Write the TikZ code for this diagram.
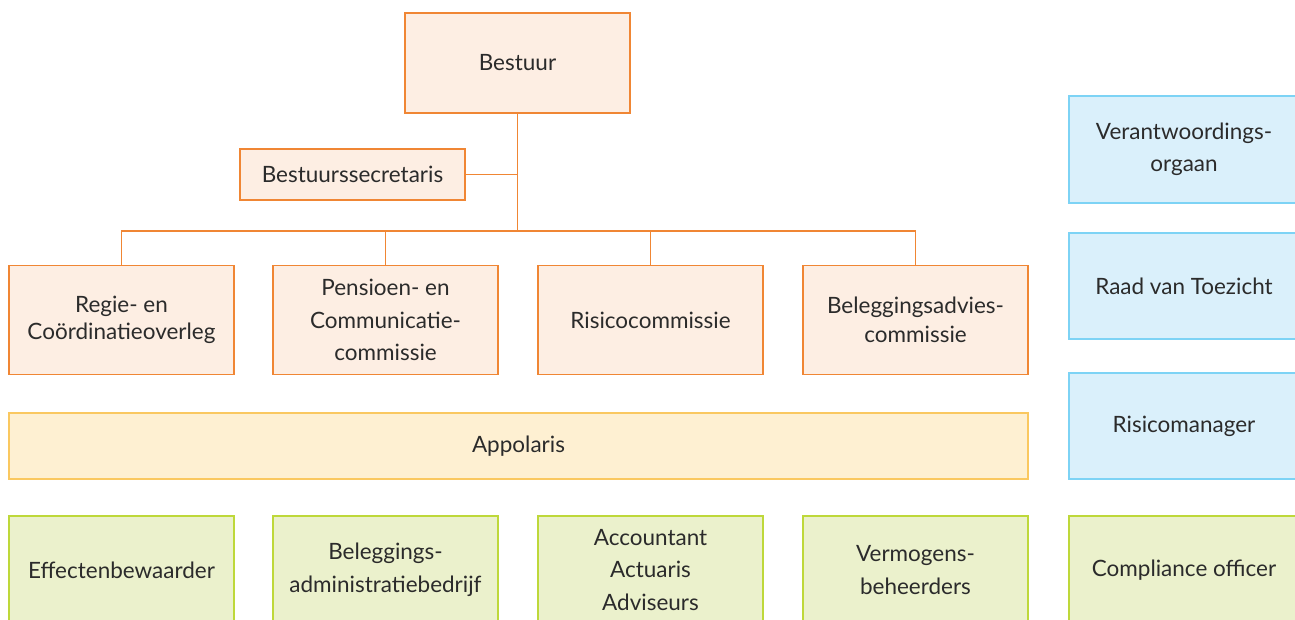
\documentclass[tikz,border=0pt]{standalone}
\usepackage{fontspec}
\setmainfont{Lato}
\definecolor{orgline}{RGB}{240,134,52}
\definecolor{orgfill}{RGB}{253,238,227}
\definecolor{yelline}{RGB}{250,200,96}
\definecolor{yelfill}{RGB}{254,240,210}
\definecolor{grnline}{RGB}{190,216,58}
\definecolor{grnfill}{RGB}{235,241,204}
\definecolor{bluline}{RGB}{125,211,245}
\definecolor{blufill}{RGB}{218,240,251}
\definecolor{txt}{RGB}{43,43,43}
\tikzset{
  box/.style={draw, line width=1.1pt, minimum width=4.5cm, align=center,
    text=txt, font=\fontsize{12.8}{18.5}\selectfont, inner sep=0pt},
  orgbox/.style={box, draw=orgline, fill=orgfill},
  yelbox/.style={box, draw=yelline, fill=yelfill},
  grnbox/.style={box, draw=grnline, fill=grnfill, minimum height=2.16cm},
  blubox/.style={box, draw=bluline, fill=blufill},
  sidebox/.style={minimum width=4.6cm},
  conn/.style={draw=orgline, line width=1pt}
}
\begin{document}
\begin{tikzpicture}[x=0.02cm,y=-0.02cm]
  \useasboundingbox (0,0) rectangle (1295,619);
  \clip (0,0) rectangle (1295,619);
  % bestuur en secretaris
  \node[orgbox, minimum height=2cm] (bestuur) at (517.5,63) {Bestuur};
  \node[orgbox, minimum height=1.02cm] (secr) at (352.5,174.5) {Bestuurssecretaris};
  \coordinate (bus) at (517.5,231);
  % commissies
  \node[orgbox, minimum height=2.18cm, font=\fontsize{12.8}{15.5}\selectfont] (regie) at (121.5,320) {Regie- en\\Coördinatieoverleg};
  \node[orgbox, minimum height=2.18cm] (pensioen) at (385.5,320) {Pensioen- en\\Communicatie-\\commissie};
  \node[orgbox, minimum height=2.18cm] (risico) at (650.5,320) {Risicocommissie};
  \node[orgbox, minimum height=2.18cm, font=\fontsize{12.8}{16.5}\selectfont] (beleg) at (915.5,320) {Beleggingsadvies-\\commissie};
  \node[yelbox, minimum width=20.38cm, minimum height=1.32cm] (appolaris) at (518.5,446) {Appolaris};
  % dienstverleners
  \node[grnbox] (bewaarder) at (121.5,570) {Effectenbewaarder};
  \node[grnbox] (admin) at (385.5,570) {Beleggings-\\administratiebedrijf};
  \node[grnbox] (accountant) at (650.5,570) {Accountant\\Actuaris\\Adviseurs};
  \node[grnbox] (vermogen) at (915.5,570) {Vermogens-\\beheerders};
  % toezicht
  \node[blubox, sidebox, minimum height=2.14cm] (vo) at (1184,149.5) {Verantwoordings-\\orgaan};
  \node[blubox, sidebox, minimum height=2.12cm] (rvt) at (1184,286) {Raad van Toezicht};
  \node[blubox, sidebox, minimum height=2.12cm] (rm) at (1184,426) {Risicomanager};
  \node[grnbox, sidebox] (compliance) at (1184,570) {Compliance officer};
  % lijnen
  \draw[conn] (bestuur.south) -- (bus);
  \draw[conn] (secr.east) -- (secr.east -| bus);
  \draw[conn] (regie.north) |- (bus) -| (beleg.north);
  \draw[conn] (pensioen.north) -- (pensioen.north |- bus);
  \draw[conn] (risico.north) -- (risico.north |- bus);
\end{tikzpicture}
\end{document}
